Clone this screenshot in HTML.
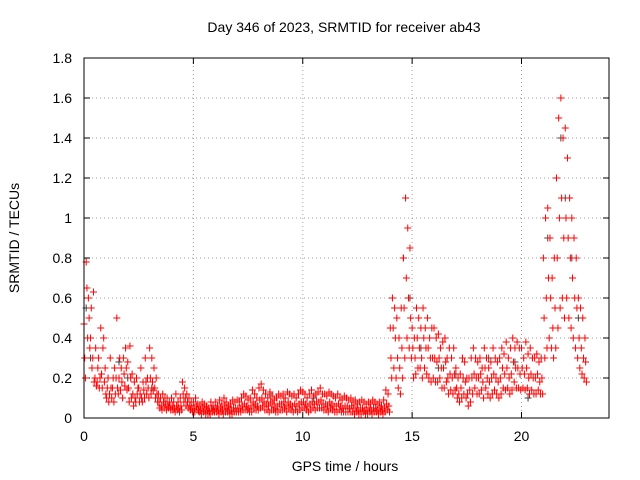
<!DOCTYPE html>
<html><head><meta charset="utf-8"><style>
body{margin:0;background:#fff;}
svg{display:block;font-family:"Liberation Sans",sans-serif;}
</style></head><body>
<svg id="chart" width="640" height="480">
<rect width="640" height="480" fill="#fff"/>
<text x="344" y="32" font-size="14" text-anchor="middle">Day 346 of 2023, SRMTID for receiver ab43</text>
<text x="345" y="471" font-size="14" text-anchor="middle">GPS time / hours</text>
<text transform="translate(19,238) rotate(-90)" font-size="14" text-anchor="middle">SRMTID / TECUs</text>
<g id="grid"></g><g id="ticks"></g><g id="marks"></g>
<rect x="84" y="58" width="525" height="360" fill="none" stroke="#000" stroke-width="1"/>
</svg>
<script>
const xTicks=[0,5,10,15,20];
const yTicks=[0,0.2,0.4,0.6,0.8,1,1.2,1.4,1.6,1.8];
const yTickLabels=["0","0.2","0.4","0.6","0.8","1","1.2","1.4","1.6","1.8"];
const binStartHour=0, binStep=0.1;
const redHigh=[47,78,60,40,30,20,18,15,22,40, 12,20,30,15,25,50,20,25,30,35, 28,36,22,18,20,15,25,18,30,20, 35,30,25,20,12,10,12,10,10,8, 10,8,12,8,10,18,15,12,10,8, 8,10,7,6,8,7,6,5,8,6, 8,6,9,7,10,8,6,7,9,8, 9,8,10,12,11,9,10,14,12,10, 15,17,14,12,10,13,11,9,10,12, 11,12,10,13,12,11,12,10,12,14, 13,12,10,12,14,11,12,13,15,12, 12,11,13,12,11,10,12,10,9,11, 10,9,10,8,9,7,8,9,8,7, 8,7,9,8,7,8,6,9,14,12, 45,60,55,50,40,55,80,110,95,85, 45,40,55,50,45,55,45,50,40,45, 45,40,42,35,38,40,30,35,30,35, 25,20,22,30,28,20,20,30,35,30, 28,30,25,35,30,25,28,35,30,28, 30,35,32,38,30,35,40,35,38,35, 35,30,38,32,35,30,30,32,28,30, 80,100,105,90,70,80,120,150,160,140, 145,130,110,100,90,80,60,55,50,40];
const redMid=[30,65,50,55,63,35,25,20,15,18, 10,8,15,20,12,15,30,18,22,25, 15,20,12,10,12,8,10,14,18,15, 20,18,15,12,8,6,8,7,6,6, 6,5,6,5,6,12,10,8,6,5, 5,6,4,4,5,4,4,3,5,4, 5,4,5,4,6,5,4,4,5,5, 5,5,6,7,6,5,6,8,7,6, 9,10,8,7,6,8,7,5,6,7, 7,8,6,8,7,6,7,6,7,8, 8,7,6,7,8,7,8,8,9,7, 7,6,8,7,6,6,7,6,5,6, 6,5,6,5,5,4,5,5,4,4, 5,4,5,5,4,5,4,5,7,6, 30,45,40,30,25,35,55,70,60,50, 35,30,40,35,30,40,35,35,30,30, 30,28,30,25,25,28,20,22,20,22, 15,12,15,20,18,12,14,20,22,20, 20,22,18,25,20,18,20,22,20,18, 20,25,22,25,20,22,28,25,25,22, 25,22,25,20,22,20,20,22,18,20, 50,60,70,60,45,55,80,100,110,90, 100,90,80,70,60,55,40,35,30,28];
const redLow=[20,40,35,25,18,16,30,45,35,25, 15,12,10,8,20,12,14,10,16,14, 8,10,6,8,15,12,8,10,12,10, 12,14,10,8,5,4,5,4,5,4, 4,3,4,3,4,8,6,5,4,3, 3,4,3,2,3,2,2,2,3,3, 3,2,3,2,3,3,2,2,3,3, 3,3,4,4,4,3,3,5,4,4, 5,6,4,4,3,4,4,3,3,4, 4,5,3,5,4,3,4,3,4,5, 5,4,3,4,5,4,5,5,5,4, 4,3,5,4,3,3,4,3,3,3, 3,3,3,2,3,2,2,3,2,2, 3,2,3,3,2,3,2,3,4,3, 20,25,20,15,12,20,30,40,35,30, 20,22,25,25,20,25,22,20,18,20, 18,18,20,15,15,18,12,14,12,14, 10,8,10,12,10,6,8,12,15,12, 12,14,10,15,12,10,12,14,12,10, 12,15,14,15,12,14,18,15,15,14, 15,14,15,12,14,12,12,14,12,12, 30,35,40,35,30,35,45,55,60,50, 60,50,45,40,35,30,25,22,20,18];
const darkHours=[0.1,0.3,1.6,2.0,3.1,8.5,9.8,10.5,14.6,14.9,15.4,16.2,17.0,18.5,19.7,20.3,21.2,21.6,21.8,22.0,22.3,22.6];
const darkVals=[0.55,0.3,0.28,0.2,0.15,0.12,0.12,0.1,0.8,0.6,0.35,0.25,0.22,0.3,0.28,0.1,0.9,1.2,1.4,1.1,0.8,0.5];

const X=h=>84+h*(525/24), Y=v=>418-v*200;
const NS="http://www.w3.org/2000/svg";
const grid=document.getElementById('grid'),ticks=document.getElementById('ticks'),marks=document.getElementById('marks');
function mk(tag,attrs,parent){const e=document.createElementNS(NS,tag);for(const k in attrs)e.setAttribute(k,attrs[k]);parent.appendChild(e);return e;}
xTicks.forEach(t=>{
 const g=mk('line',{x1:X(t),x2:X(t),y1:58,y2:418,stroke:'#a0a0a0','stroke-dasharray':'1,3'},grid);
 
 
 mk('line',{x1:X(t),x2:X(t),y1:418,y2:412,stroke:'#000'},ticks);
 mk('line',{x1:X(t),x2:X(t),y1:58,y2:64,stroke:'#000'},ticks);
 const l=mk('text',{x:X(t),y:441,'font-size':14,'text-anchor':'middle'},ticks);l.textContent=t;
 
 
});
yTicks.forEach((t,i)=>{
 const g=mk('line',{x1:84,x2:609,y1:Y(t),y2:Y(t),stroke:'#a0a0a0','stroke-dasharray':'1,3'},grid);
 
 
 mk('line',{x1:84,x2:90,y1:Y(t),y2:Y(t),stroke:'#000'},ticks);
 mk('line',{x1:603,x2:609,y1:Y(t),y2:Y(t),stroke:'#000'},ticks);
 const l=mk('text',{x:72,y:Y(t)+5,'font-size':14,'text-anchor':'end'},ticks);l.textContent=yTickLabels[i];
 
 
});
function plus(h,v,color){
 const x=X(h),y=Y(v);
 const p=mk('path',{d:`M${x-3.5},${y}h7M${x},${y-3.5}v7`,stroke:color,'stroke-width':1,fill:'none'},marks);
 
 
}
darkHours.forEach((h,i)=>plus(h,darkVals[i],'#404040'));
[[redHigh,0],[redMid,0.033],[redLow,0.066]].forEach(([arr,off])=>{
 arr.forEach((v,i)=>plus(binStartHour+i*binStep+off,v/100,'#ff0000'));
});
</script>
</body></html>
